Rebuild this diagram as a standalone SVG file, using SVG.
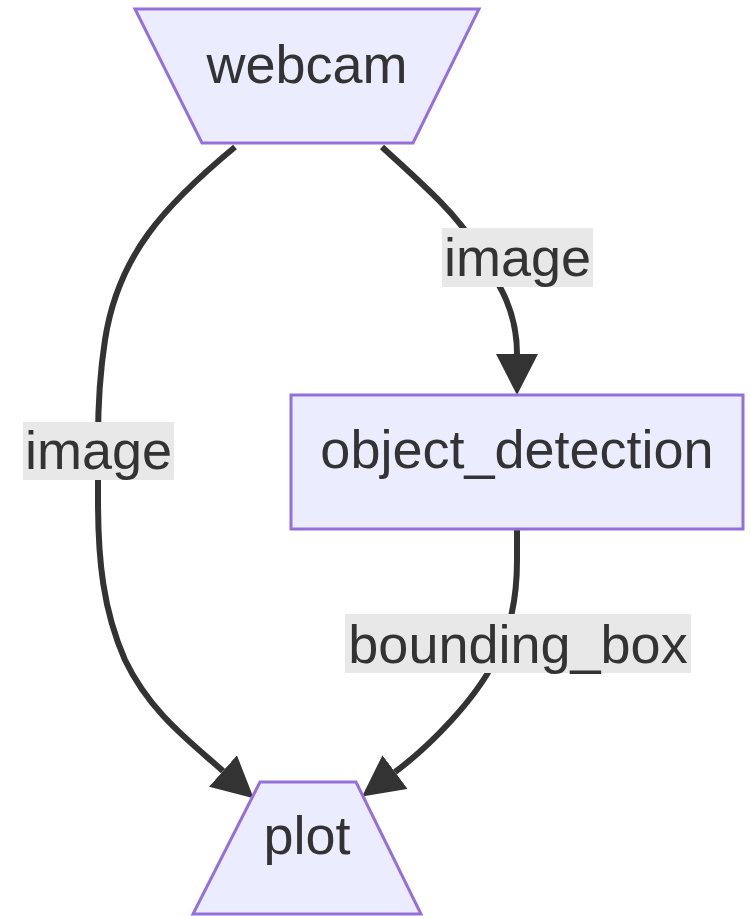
<svg xmlns="http://www.w3.org/2000/svg" width="750" height="916" viewBox="0 0 750 916">
  <style>
    .node { fill: #ECECFF; stroke: #9370DB; stroke-width: 3; }
    .label { font-family: "Liberation Sans", Arial, sans-serif; font-size: 54px; fill: #333333; text-anchor: middle; }
    .edge { fill: none; stroke: #333333; stroke-width: 6; }
    .edge-bg { fill: #e8e8e8; }
  </style>
  <defs>
    <marker id="arrowhead" viewBox="0 0 10 10" refX="0" refY="5" markerWidth="41" markerHeight="42" markerUnits="userSpaceOnUse" orient="auto" preserveAspectRatio="none">
      <path d="M0,0 L10,5 L0,10 z" fill="#333333"/>
    </marker>
  </defs>

  <g id="connectors">
    <path class="edge" d="M235,147 C165,205 118,255 105,340 C100,372 98,400 98,440 L98,500 C98,560 103,610 125,660 C150,712 188,740 223,771" marker-end="url(#arrowhead)"/>
    <path class="edge" d="M382,147 C420,182 455,212 475,245 C500,285 517,310 517,354" marker-end="url(#arrowhead)"/>
    <path class="edge" d="M517,529 L517,560 C517,600 510,630 495,660 C475,700 430,746 395,772" marker-end="url(#arrowhead)"/>

    <g id="label-webcam-plot">
      <rect class="edge-bg" x="23" y="422" width="151" height="58"/>
      <text class="label" x="98.5" y="469">image</text>
    </g>
    <g id="label-webcam-detection">
      <rect class="edge-bg" x="442" y="228" width="151" height="59"/>
      <text class="label" x="517.5" y="276">image</text>
    </g>
    <g id="label-detection-plot">
      <rect class="edge-bg" x="345" y="614" width="346" height="59"/>
      <text class="label" x="518" y="663">bounding_box</text>
    </g>
  </g>

  <g id="webcam">
    <polygon class="node" points="135,9 479,9 413,143 202,143"/>
    <text class="label" x="307" y="83">webcam</text>
  </g>

  <g id="object_detection">
    <rect class="node" x="291" y="395" width="452" height="134"/>
    <text class="label" x="517" y="468">object_detection</text>
  </g>

  <g id="plot">
    <polygon class="node" points="260,782 356,782 421,914 193,914"/>
    <text class="label" x="307" y="854">plot</text>
  </g>
</svg>
